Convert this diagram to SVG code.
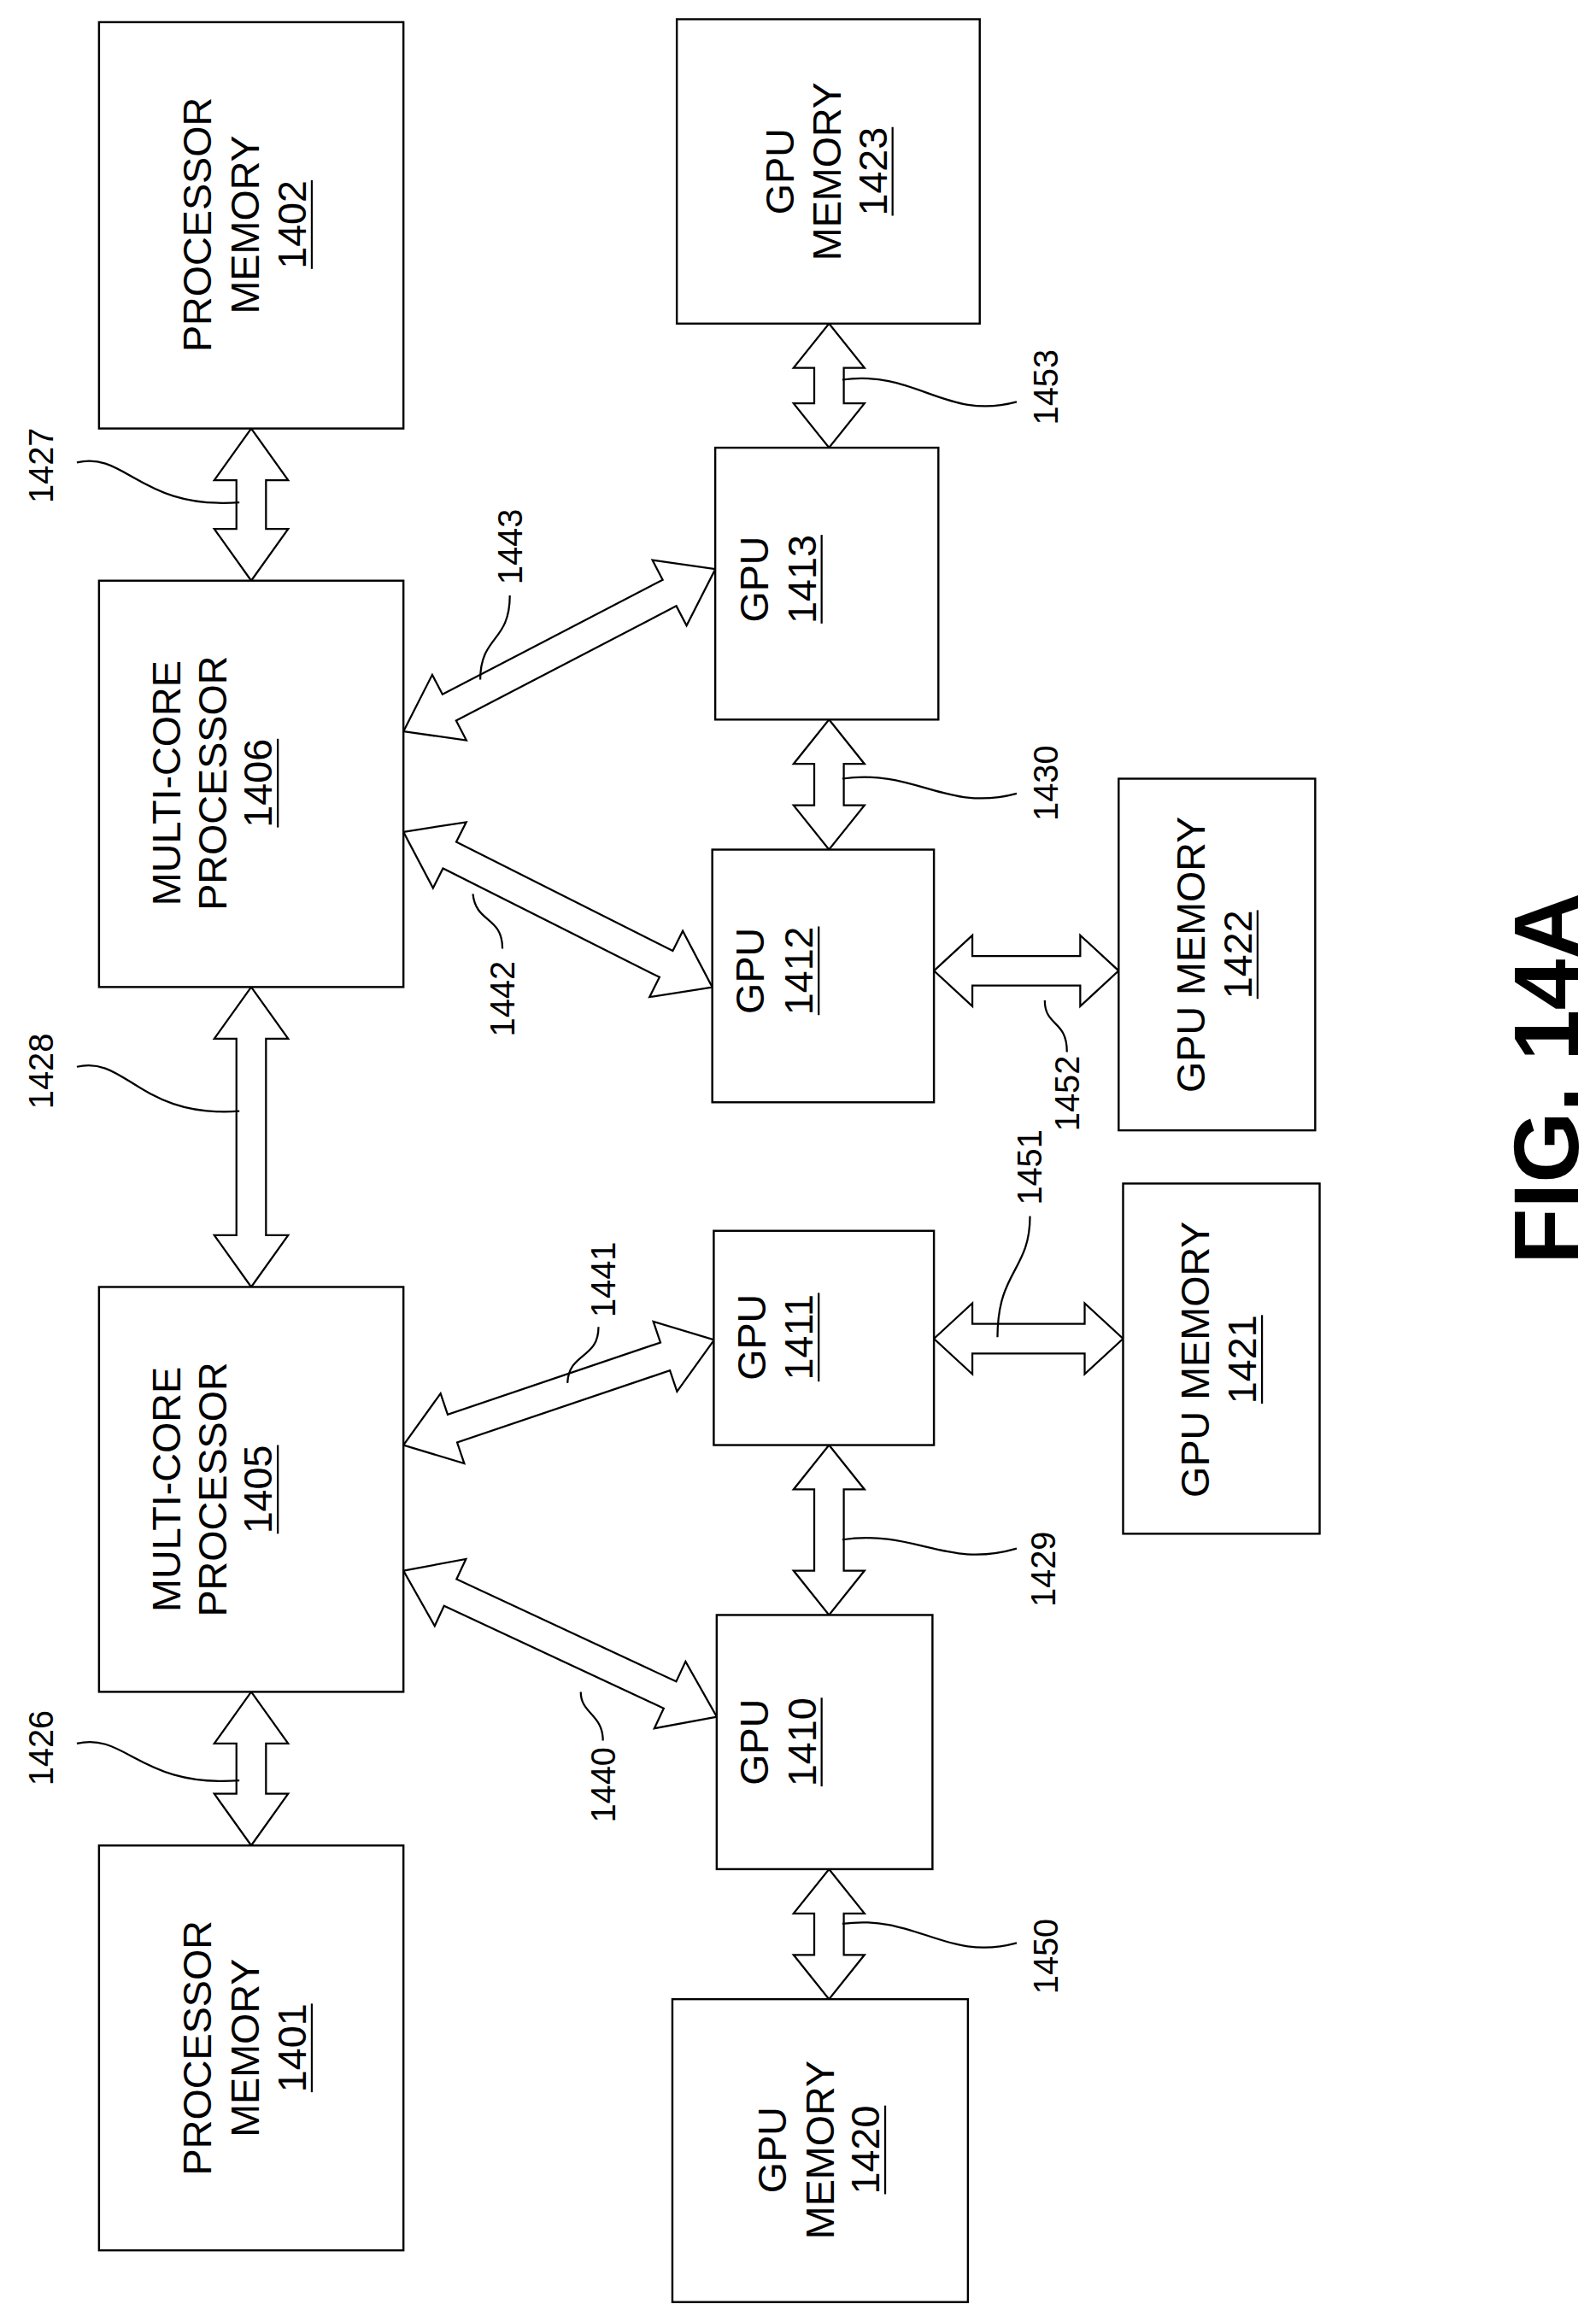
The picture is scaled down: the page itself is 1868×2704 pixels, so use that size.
<svg xmlns="http://www.w3.org/2000/svg" width="1868" height="2704" viewBox="0 0 1868 2704">
<style>
.box{fill:#fff;stroke:#000;stroke-width:1.4}
.arr{fill:#fff;stroke:#000;stroke-width:1.3;stroke-linejoin:miter}
.t{font-family:"Liberation Sans",Arial,sans-serif;font-size:27px;text-anchor:middle;fill:#000}
.n{font-family:"Liberation Sans",Arial,sans-serif;font-size:23px;text-anchor:middle;fill:#000}
.u{stroke:#000;stroke-width:1.3}
.ld{fill:none;stroke:#000;stroke-width:1.3}
.fig{font-family:"Liberation Sans",Arial,sans-serif;font-size:62px;font-weight:bold;text-anchor:middle;fill:#000}
</style>
<rect width="1868" height="2704" fill="#fff"/>
<g transform="scale(1.7296)">
<g id="connectors">
<polygon class="arr" transform="translate(170,290) rotate(90)" points="0,0 35,-25 35,-10 68,-10 68,-25 103,0 68,25 68,10 35,10 35,25"/>
<polygon class="arr" transform="translate(170,668) rotate(90)" points="0,0 35,-25 35,-10 168,-10 168,-25 203,0 168,25 168,10 35,10 35,25"/>
<polygon class="arr" transform="translate(170,1145) rotate(90)" points="0,0 35,-25 35,-10 69,-10 69,-25 104,0 69,25 69,10 35,10 35,25"/>
<polygon class="arr" transform="translate(561,219) rotate(90)" points="0,0 30,-24 30,-10 54,-10 54,-24 84,0 54,24 54,10 30,10 30,24"/>
<polygon class="arr" transform="translate(561,487) rotate(90)" points="0,0 30,-24 30,-10 58,-10 58,-24 88,0 58,24 58,10 30,10 30,24"/>
<polygon class="arr" transform="translate(561,978) rotate(90)" points="0,0 30,-24 30,-10 85,-10 85,-24 115,0 85,24 85,10 30,10 30,24"/>
<polygon class="arr" transform="translate(561,1265) rotate(90)" points="0,0 30,-24 30,-10 58,-10 58,-24 88,0 58,24 58,10 30,10 30,24"/>
<polygon class="arr" transform="translate(632,657)" points="0,0 26,-24 26,-10 99,-10 99,-24 125,0 99,24 99,10 26,10 26,24"/>
<polygon class="arr" transform="translate(632,906)" points="0,0 26,-24 26,-10 102,-10 102,-24 128,0 102,24 102,10 26,10 26,24"/>
<polygon class="arr" transform="translate(273,495) rotate(-27.5)" points="0,0 35,-25 35,-10 203,-10 203,-25 238,0 203,25 203,10 35,10 35,25"/>
<polygon class="arr" transform="translate(273,563) rotate(26.7)" points="0,0 35,-25 35,-10 199,-10 199,-25 234,0 199,25 199,10 35,10 35,25"/>
<polygon class="arr" transform="translate(273,978) rotate(-18.7)" points="0,0 35,-25 35,-10 187,-10 187,-25 222,0 187,25 187,10 35,10 35,25"/>
<polygon class="arr" transform="translate(273,1063) rotate(25)" points="0,0 35,-25 35,-10 199,-10 199,-25 234,0 199,25 199,10 35,10 35,25"/>
<path class="ld" d="M52,313 C85,305 95,345 162,340"/>
<path class="ld" d="M52,722 C85,714 95,757 162,752"/>
<path class="ld" d="M52,1180 C85,1172 95,1210 162,1205"/>
<path class="ld" d="M345,403 C345,435 325,430 325,460"/>
<path class="ld" d="M320,605 C322,625 340,620 340,642"/>
<path class="ld" d="M405,898 C405,920 385,915 384,936"/>
<path class="ld" d="M393,1145 C393,1160 408,1160 408,1178"/>
<path class="ld" d="M570,257 C620,250 640,285 688,272"/>
<path class="ld" d="M570,527 C620,520 640,550 688,537"/>
<path class="ld" d="M707,677 C707,695 722,690 722,712"/>
<path class="ld" d="M697,823 C697,860 675,860 675,905"/>
<path class="ld" d="M570,1042 C620,1035 640,1062 688,1048"/>
<path class="ld" d="M570,1302 C620,1295 640,1328 688,1315"/>
</g>
<g id="n1402"><rect class="box" x="67" y="15" width="206" height="275"/>
<g transform="translate(170,152) rotate(-90)"><text class="t" y="-27">PROCESSOR</text><text class="t" y="5">MEMORY</text><text class="t" y="37">1402</text><line class="u" x1="-30" y1="41" x2="30" y2="41"/></g></g>
<g id="n1406"><rect class="box" x="67" y="393" width="206" height="275"/>
<g transform="translate(170,530) rotate(-90)"><text class="t" y="-48">MULTI-CORE</text><text class="t" y="-17">PROCESSOR</text><text class="t" y="14">1406</text><line class="u" x1="-30" y1="18" x2="30" y2="18"/></g></g>
<g id="n1405"><rect class="box" x="67" y="871" width="206" height="274"/>
<g transform="translate(170,1008) rotate(-90)"><text class="t" y="-48">MULTI-CORE</text><text class="t" y="-17">PROCESSOR</text><text class="t" y="14">1405</text><line class="u" x1="-30" y1="18" x2="30" y2="18"/></g></g>
<g id="n1401"><rect class="box" x="67" y="1249" width="206" height="274"/>
<g transform="translate(170,1386) rotate(-90)"><text class="t" y="-27">PROCESSOR</text><text class="t" y="5">MEMORY</text><text class="t" y="37">1401</text><line class="u" x1="-30" y1="41" x2="30" y2="41"/></g></g>
<g id="n1423"><rect class="box" x="458" y="13" width="205" height="206"/>
<g transform="translate(560,116) rotate(-90)"><text class="t" y="-23">GPU</text><text class="t" y="9">MEMORY</text><text class="t" y="40">1423</text><line class="u" x1="-30" y1="44" x2="30" y2="44"/></g></g>
<g id="n1413"><rect class="box" x="484" y="303" width="151" height="184"/>
<g transform="translate(560,392) rotate(-90)"><text class="t" y="-40">GPU</text><text class="t" y="-8">1413</text><line class="u" x1="-30" y1="-4" x2="30" y2="-4"/></g></g>
<g id="n1412"><rect class="box" x="482" y="575" width="150" height="171"/>
<g transform="translate(557,657) rotate(-90)"><text class="t" y="-40">GPU</text><text class="t" y="-7">1412</text><line class="u" x1="-30" y1="-3" x2="30" y2="-3"/></g></g>
<g id="n1422"><rect class="box" x="757" y="527" width="133" height="238"/>
<g transform="translate(823,646) rotate(-90)"><text class="t" y="-8">GPU MEMORY</text><text class="t" y="24">1422</text><line class="u" x1="-30" y1="28" x2="30" y2="28"/></g></g>
<g id="n1411"><rect class="box" x="483" y="833" width="149" height="145"/>
<g transform="translate(557,905) rotate(-90)"><text class="t" y="-39">GPU</text><text class="t" y="-7">1411</text><line class="u" x1="-30" y1="-3" x2="30" y2="-3"/></g></g>
<g id="n1421"><rect class="box" x="760" y="801" width="133" height="237"/>
<g transform="translate(826,920) rotate(-90)"><text class="t" y="-8">GPU MEMORY</text><text class="t" y="24">1421</text><line class="u" x1="-30" y1="28" x2="30" y2="28"/></g></g>
<g id="n1410"><rect class="box" x="485" y="1093" width="146" height="172"/>
<g transform="translate(558,1179) rotate(-90)"><text class="t" y="-38">GPU</text><text class="t" y="-6">1410</text><line class="u" x1="-30" y1="-2" x2="30" y2="-2"/></g></g>
<g id="n1420"><rect class="box" x="455" y="1353" width="200" height="205"/>
<g transform="translate(555,1455) rotate(-90)"><text class="t" y="-23">GPU</text><text class="t" y="9">MEMORY</text><text class="t" y="40">1420</text><line class="u" x1="-30" y1="44" x2="30" y2="44"/></g></g>
<g id="labels">
<text class="n" transform="translate(36,315) rotate(-90)">1427</text>
<text class="n" transform="translate(36,725) rotate(-90)">1428</text>
<text class="n" transform="translate(36,1183) rotate(-90)">1426</text>
<text class="n" transform="translate(353,370) rotate(-90)">1443</text>
<text class="n" transform="translate(348,676) rotate(-90)">1442</text>
<text class="n" transform="translate(416,866) rotate(-90)">1441</text>
<text class="n" transform="translate(416,1208) rotate(-90)">1440</text>
<text class="n" transform="translate(716,262) rotate(-90)">1453</text>
<text class="n" transform="translate(716,530) rotate(-90)">1430</text>
<text class="n" transform="translate(730,740) rotate(-90)">1452</text>
<text class="n" transform="translate(705,790) rotate(-90)">1451</text>
<text class="n" transform="translate(714,1062) rotate(-90)">1429</text>
<text class="n" transform="translate(716,1324) rotate(-90)">1450</text>
<text class="fig" transform="translate(1068,730) rotate(-90)">FIG. 14A</text>
</g>
</g>
</svg>
